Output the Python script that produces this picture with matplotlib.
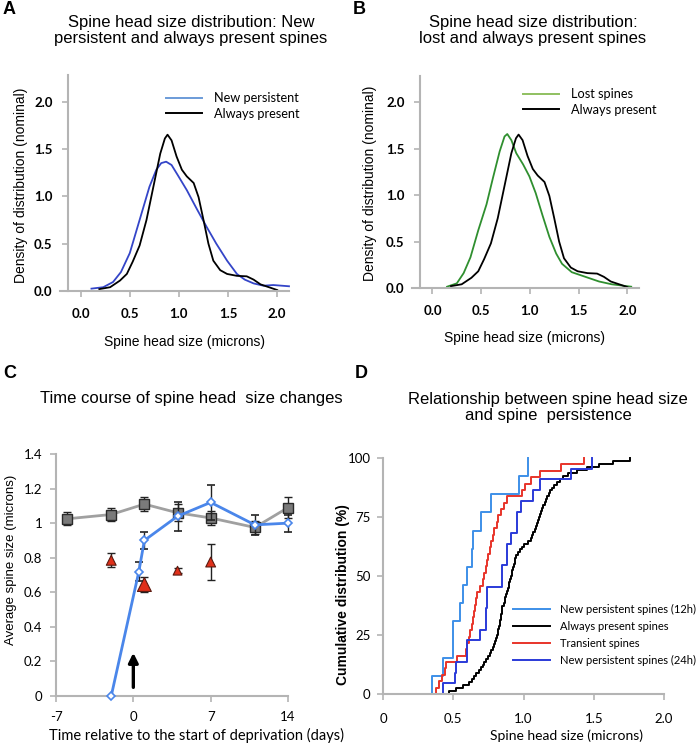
import numpy as np
import matplotlib
matplotlib.use("Agg")
import matplotlib.pyplot as plt
from matplotlib.lines import Line2D

# ---------------- data ----------------
# Panel A / B : density curves (x in microns, y density)
always_x = [0.19, 0.30, 0.40, 0.47, 0.53, 0.60, 0.67, 0.74, 0.81, 0.857, 0.884, 0.925, 0.976,
            1.03, 1.08, 1.15, 1.20, 1.25, 1.30, 1.35, 1.42, 1.49, 1.59, 1.69, 1.76, 1.83, 1.93, 2.0]
always_y = [0.02, 0.04, 0.11, 0.18, 0.31, 0.48, 0.75, 1.10, 1.45, 1.61, 1.65, 1.59, 1.42,
            1.28, 1.21, 1.14, 0.99, 0.75, 0.50, 0.32, 0.22, 0.18, 0.16, 0.155, 0.12, 0.07, 0.035, 0.01]
newpers_x = [0.11, 0.23, 0.33, 0.41, 0.50, 0.60, 0.70, 0.77, 0.82, 0.87, 0.925, 0.99, 1.08,
             1.18, 1.28, 1.38, 1.49, 1.59, 1.67, 1.76, 1.86, 1.96, 2.12]
newpers_y = [0.025, 0.04, 0.095, 0.20, 0.40, 0.75, 1.10, 1.28, 1.35, 1.365, 1.33, 1.22, 1.065,
             0.87, 0.68, 0.50, 0.32, 0.18, 0.12, 0.08, 0.056, 0.063, 0.05]
lost_x = [0.15, 0.25, 0.32, 0.39, 0.47, 0.555, 0.62, 0.69, 0.74, 0.768, 0.81, 0.86, 0.93, 0.995,
          1.06, 1.13, 1.20, 1.27, 1.33, 1.43, 1.57, 1.71, 1.84, 2.04]
lost_y = [0.014, 0.05, 0.16, 0.33, 0.62, 0.90, 1.18, 1.47, 1.63, 1.656, 1.59, 1.45, 1.33, 1.20,
          1.02, 0.78, 0.55, 0.37, 0.26, 0.17, 0.12, 0.07, 0.04, 0.014]

# Panel C : time course
days_gray = [-6, -2, 1, 4, 7, 11, 14]
size_gray = [1.025, 1.05, 1.11, 1.06, 1.03, 0.975, 1.09]
err_gray = [0.037, 0.035, 0.04, 0.05, 0.04, 0.035, 0.06]
days_blue = [-2, 0.5, 1, 4, 7, 11, 14]
size_blue = [0.0, 0.72, 0.90, 1.04, 1.12, 0.99, 1.00]
err_blue = [0.0, 0.057, 0.05, 0.085, 0.10, 0.06, 0.05]
days_red = [-2, 1, 4, 7]
size_red = [0.785, 0.645, 0.725, 0.775]
err_red = [0.04, 0.045, 0.015, 0.105]

# Panel D : spine head sizes (microns) per group
sizes_new12 = [0.35, 0.43, 0.50, 0.50, 0.55, 0.57, 0.60, 0.63, 0.64, 0.70, 0.77, 0.97, 1.03]
sizes_transient = [0.38, 0.40, 0.42, 0.44, 0.45, 0.53, 0.59, 0.60, 0.61, 0.62, 0.63, 0.64,
                   0.65, 0.655, 0.66, 0.67, 0.69, 0.71, 0.72, 0.73, 0.74, 0.75, 0.76, 0.77,
                   0.78, 0.79, 0.81, 0.82, 0.84, 0.86, 0.88, 0.99, 1.01, 1.05, 1.12, 1.27, 1.43]
sizes_new24 = [0.43, 0.51, 0.52, 0.60, 0.60, 0.69, 0.73, 0.73, 0.74, 0.74, 0.85, 0.85, 0.88,
               0.88, 0.91, 0.955, 0.955, 0.98, 1.07, 1.12, 1.34, 1.49]
sizes_always = [0.47, 0.52, 0.57, 0.61, 0.63, 0.65, 0.665, 0.68, 0.70, 0.71, 0.72, 0.735, 0.75,
                0.76, 0.77, 0.78, 0.79, 0.80, 0.805, 0.81, 0.815, 0.82, 0.825, 0.83, 0.833,
                0.837, 0.84, 0.845, 0.848, 0.85, 0.86, 0.865, 0.87, 0.875, 0.885, 0.89, 0.895,
                0.90, 0.907, 0.91, 0.915, 0.92, 0.925, 0.93, 0.937, 0.942, 0.95, 0.96, 0.975,
                0.99, 1.00, 1.03, 1.05, 1.06, 1.07, 1.08, 1.088, 1.095, 1.10, 1.11, 1.118, 1.125,
                1.13, 1.14, 1.15, 1.16, 1.17, 1.18, 1.19, 1.20, 1.22, 1.235, 1.26, 1.28, 1.32,
                1.38, 1.45, 1.54, 1.64, 1.76]

ab_ticks = [0.0, 0.5, 1.0, 1.5, 2.0]
ab_ticklabels = ["0.0", "0.5", "1.0", "1.5", "2.0"]
c_xticks = [-7, 0, 7, 14]
c_yticks = [0, 0.2, 0.4, 0.6, 0.8, 1.0, 1.2, 1.4]
c_yticklabels = ["0", "0.2", "0.4", "0.6", "0.8", "1", "1.2", "1.4"]
d_xticks = [0, 0.5, 1.0, 1.5, 2.0]
d_xticklabels = ["0", "0.5", "1.0", "1.5", "2.0"]
d_yticks = [0, 25, 50, 75, 100]

# ---------------- style ----------------
plt.rcParams['font.family'] = ['Liberation Sans', 'DejaVu Sans']
W, H = 700, 746
fig = plt.figure(figsize=(W / 100, H / 100), dpi=100)
SPINE = '#b4b4b4'
TICKFONT = ['Lato', 'DejaVu Sans']


def add_ax(x0, y0, x1, y1):
    return fig.add_axes([x0 / W, 1 - y1 / H, (x1 - x0) / W, (y1 - y0) / H])


def fx(x):
    return x / W


def fy(y):
    return 1 - y / H


def base_style(ax, spine_lw=1.5):
    for s in ['top', 'right']:
        ax.spines[s].set_visible(False)
    for s in ['left', 'bottom']:
        ax.spines[s].set_color(SPINE)
        ax.spines[s].set_linewidth(spine_lw)
    ax.tick_params(direction='out', color=SPINE, width=1.2, length=4, labelcolor='black')


def density_panel(ax, curves, legend_items, legend_anchor):
    base_style(ax)
    ax.set_xlim(-0.21, 2.12)
    ax.set_ylim(0, 2.28)
    ax.spines['left'].set_position(('data', -0.13))
    ax.set_xticks(ab_ticks)
    ax.set_xticklabels(ab_ticklabels, fontfamily=TICKFONT, fontweight='bold', fontsize=9.5)
    ax.set_yticks(ab_ticks)
    ax.set_yticklabels(ab_ticklabels, fontfamily=TICKFONT, fontweight='bold', fontsize=9.5)
    ax.tick_params(axis='y', pad=7)
    ax.tick_params(axis='x', pad=8)
    for xs, ys, col in curves:
        ax.plot(xs, ys, color=col, lw=1.3, clip_on=False)
    handles = [Line2D([], [], color=c, lw=1.4) for c, _ in legend_items]
    labels = [l for _, l in legend_items]
    ax.legend(handles, labels, loc='center left', bbox_to_anchor=legend_anchor,
              bbox_transform=fig.transFigure, frameon=False, borderpad=0, borderaxespad=0,
              handlelength=2.8, handletextpad=0.95, labelspacing=0.3,
              prop={'family': TICKFONT, 'size': 9.2})


# ---------------- Panel A ----------------
axA = add_ax(60, 75, 289, 291)
density_panel(axA, [(newpers_x, newpers_y, '#3445c8'), (always_x, always_y, 'black')],
              [('#6b9bd8', 'New persistent'), ('black', 'Always present')],
              (fx(166), fy(106)))
fig.text(fx(191), fy(15), "Spine head size distribution: New\npersistent and always present spines",
         ha='center', va='top', fontsize=12, linespacing=1.1)
fig.text(fx(21), fy(185), "Density of distribution (nominal)", rotation=90, ha='center',
         va='center', fontsize=10)
fig.text(fx(185), fy(342), "Spine head size (microns)", ha='center', va='center', fontsize=10)
fig.text(fx(3), fy(9), "A", fontsize=13, fontweight='bold', ha='left', va='center')

# ---------------- Panel B ----------------
axB = add_ax(412, 76, 639, 288)
density_panel(axB, [(lost_x, lost_y, '#2f8f2f'), (always_x, always_y, 'black')],
              [('#8fc060', 'Lost spines'), ('black', 'Always present')],
              (fx(523), fy(102)))
fig.text(fx(533), fy(15), "Spine head size distribution:\nlost and always present spines",
         ha='center', va='top', fontsize=12, linespacing=1.1)
fig.text(fx(370), fy(183), "Density of distribution (nominal)", rotation=90, ha='center',
         va='center', fontsize=10)
fig.text(fx(525), fy(338), "Spine head size (microns)", ha='center', va='center', fontsize=10)
fig.text(fx(353), fy(9), "B", fontsize=13, fontweight='bold', ha='left', va='center')

# ---------------- Panel C ----------------
axC = add_ax(56, 454, 288, 696)
base_style(axC)
axC.set_xlim(-7, 14)
axC.set_ylim(0, 1.4)
axC.set_xticks(c_xticks)
axC.set_xticklabels([str(t) for t in c_xticks], fontfamily=TICKFONT, fontsize=9.5)
axC.set_yticks(c_yticks)
axC.set_yticklabels(c_yticklabels, fontfamily=TICKFONT, fontsize=9.5)
axC.tick_params(axis='y', pad=6)
axC.tick_params(axis='x', pad=7)

axC.errorbar(days_gray, size_gray, yerr=err_gray, color='#a0a0a0', lw=2, ecolor='#222222',
             elinewidth=1, capsize=3, capthick=1, marker='s', ms=7.5, mfc='#7a7a7a',
             mec='#2a2a2a', mew=1, zorder=3, clip_on=False)
axC.errorbar(days_red, size_red, yerr=err_red, ls='none', ecolor='#222222', elinewidth=1,
             capsize=3, capthick=1, zorder=3)
red_ms = [50, 100, 40, 50]
axC.scatter(days_red, size_red, s=red_ms, marker='^', c='#e0301a', edgecolors='#5a1a10',
            linewidths=0.8, zorder=4)
axC.errorbar(days_blue, size_blue, yerr=err_blue, color='#4a86ea', lw=2, ecolor='#222222',
             elinewidth=1, capsize=3, capthick=1, marker='D', ms=4.5, mfc='white',
             mec='#4a86ea', mew=1.2, zorder=5, clip_on=False)
axC.annotate('', xy=(0, 0.25), xytext=(0, 0.05),
             arrowprops=dict(arrowstyle='-|>', lw=2.4, color='black', mutation_scale=14,
                             shrinkA=0, shrinkB=0))
fig.text(fx(191), fy(391), "Time course of spine head  size changes", ha='center', va='top',
         fontsize=12)
fig.text(fx(11), fy(560), "Average spine size (microns)", rotation=90, ha='center',
         va='center', fontsize=9.5)
fig.text(fx(196), fy(735), "Time relative to the start of deprivation (days)", ha='center',
         va='center', fontsize=10.5, fontfamily=TICKFONT)
fig.text(fx(3), fy(374), "C", fontsize=13, fontweight='bold', ha='left', va='center')

# ---------------- Panel D ----------------
axD = add_ax(383, 458, 664, 694)
base_style(axD)
axD.set_xlim(0, 2.0)
axD.set_ylim(0, 100)
axD.set_xticks(d_xticks)
axD.set_xticklabels(d_xticklabels, fontfamily=TICKFONT, fontsize=9.5)
axD.set_yticks(d_yticks)
axD.set_yticklabels([str(t) for t in d_yticks], fontfamily=TICKFONT, fontsize=9.5)
axD.tick_params(axis='y', pad=5)
axD.tick_params(axis='x', pad=10)


def cum_step(ax, values, color, label):
    v = np.sort(np.asarray(values, dtype=float))
    cum = np.arange(1, len(v) + 1) / len(v) * 100
    ax.step(np.r_[v[0], v], np.r_[0, cum], where='post', color=color, lw=1.4,
            label=label, clip_on=False)


cum_step(axD, sizes_new12, '#3d8fe8', "New persistent spines (12h)")
cum_step(axD, sizes_always, 'black', "Always present spines")
cum_step(axD, sizes_transient, '#e8342a', "Transient spines")
cum_step(axD, sizes_new24, '#2a3ad8', "New persistent spines (24h)")
axD.legend(loc='center left', bbox_to_anchor=(fx(513), fy(635)), bbox_transform=fig.transFigure,
           frameon=False, borderpad=0, borderaxespad=0, handlelength=3.3, handletextpad=0.9,
           labelspacing=0.55, prop={'family': TICKFONT, 'size': 8})
fig.text(fx(548), fy(392), "Relationship between spine head size\nand spine  persistence",
         ha='center', va='top', fontsize=12, linespacing=1.1)
fig.text(fx(343), fy(595), "Cumulative distribution (%)", rotation=90, ha='center', va='center',
         fontsize=10, fontweight='bold')
fig.text(fx(567), fy(736), "Spine head size (microns)", ha='center', va='center', fontsize=10,
         fontfamily=TICKFONT)
fig.text(fx(355), fy(374), "D", fontsize=13, fontweight='bold', ha='left', va='center')

fig.savefig("out.png", dpi=100)
